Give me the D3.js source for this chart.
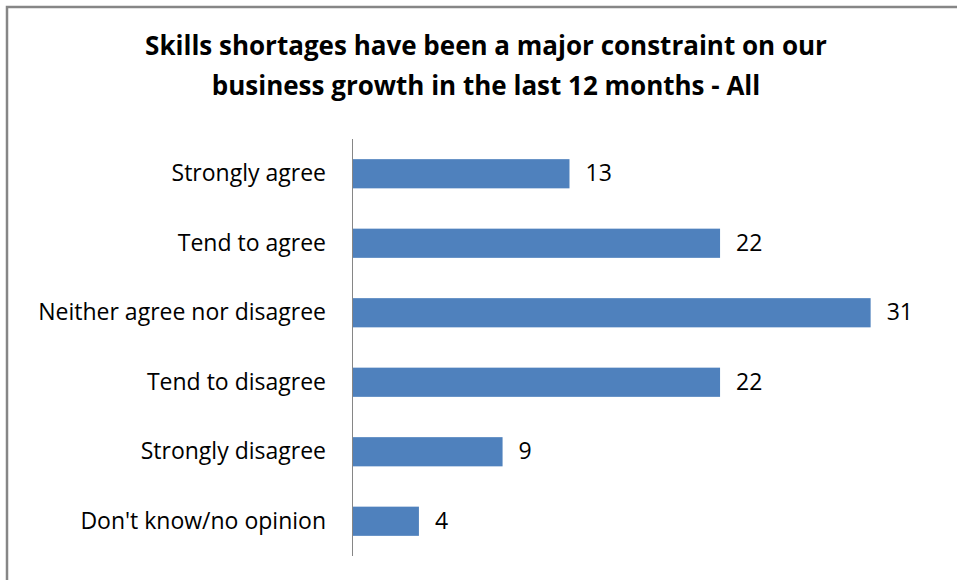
<!DOCTYPE html>
<html>
<head>
<meta charset="utf-8">
<script src="https://cdn.jsdelivr.net/npm/d3@7"></script>
<style>
  html, body { margin: 0; padding: 0; background: #fff; }
  svg { display: block; }
</style>
</head>
<body>
<svg id="chart" width="957" height="580"></svg>
<script>
// Survey responses (percent)
const categories = [
  "Strongly agree",
  "Tend to agree",
  "Neither agree nor disagree",
  "Tend to disagree",
  "Strongly disagree",
  "Don't know/no opinion"
];
const values = [13, 22, 31, 22, 9, 4];
const titleLines = [
  "Skills shortages have been a major constraint on our",
  "business growth in the last 12 months - All"
];

const svg = d3.select("#chart");
const W = 957, H = 580;
const FONT = "'Open Sans', 'Noto Sans', sans-serif";

// outer frame (runs off the right and bottom edges)
svg.append("rect")
  .attr("x", 7).attr("y", 7)
  .attr("width", W + 10).attr("height", H + 10)
  .attr("fill", "#fff")
  .attr("stroke", "#868686")
  .attr("stroke-width", 2.5);

// title
const title = svg.append("text")
  .attr("text-anchor", "middle")
  .attr("font-family", FONT)
  .attr("font-weight", "bold")
  .attr("font-size", 26)
  .attr("fill", "#000");
titleLines.forEach((t, i) => {
  title.append("tspan")
    .attr("x", 486)
    .attr("y", 55 + i * 40)
    .text(t);
});

const plot = { left: 352, top: 139, bottom: 556 };
const x = d3.scaleLinear().domain([0, 1]).range([plot.left, plot.left + 16.73]);
const y = d3.scaleBand()
  .domain(categories)
  .range([plot.top, plot.bottom])
  .paddingInner(0.58)
  .paddingOuter(0.29);

// bars
svg.append("g")
  .selectAll("rect")
  .data(values)
  .join("rect")
  .attr("x", x(0))
  .attr("y", (d, i) => y(categories[i]))
  .attr("width", d => x(d) - x(0))
  .attr("height", y.bandwidth())
  .attr("fill", "#4f81bd");

// value labels
svg.append("g")
  .selectAll("text")
  .data(values)
  .join("text")
  .attr("x", d => x(d) + 16)
  .attr("y", (d, i) => y(categories[i]) + y.bandwidth() / 2 + 7.5)
  .attr("font-family", FONT)
  .attr("font-size", 23)
  .attr("fill", "#000")
  .text(d => d);

// category axis
const axis = svg.append("g")
  .attr("transform", `translate(${plot.left},0)`)
  .call(d3.axisLeft(y).tickSize(0).tickPadding(26));
axis.select(".domain")
  .attr("stroke", "#868686")
  .attr("stroke-width", 1)
  .attr("d", `M0.5,${plot.top}V${plot.bottom}`);
axis.selectAll("text")
  .attr("font-family", FONT)
  .attr("font-size", 23)
  .attr("fill", "#000")
  .attr("dy", null)
  .attr("y", 7.5);
</script>
</body>
</html>
